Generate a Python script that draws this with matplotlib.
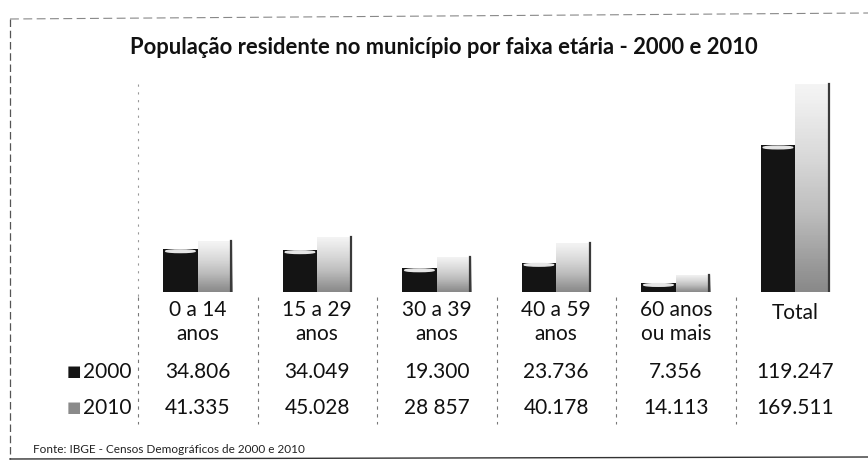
import numpy as np
import matplotlib
matplotlib.use("Agg")
import matplotlib.pyplot as plt
from matplotlib.patches import Ellipse
from matplotlib.transforms import blended_transform_factory

plt.rcParams['font.family'] = ['Lato', 'DejaVu Sans']

categorias = ['0 a 14\nanos', '15 a 29\nanos', '30 a 39\nanos',
              '40 a 59\nanos', '60 anos\nou mais', 'Total']
pop_2000 = [34.806, 34.049, 19.300, 23.736, 7.356, 119.247]
pop_2010 = [41.335, 45.028, 28.857, 40.178, 14.113, 169.511]
rot_2000 = ['34.806', '34.049', '19.300', '23.736', '7.356', '119.247']
rot_2010 = ['41.335', '45.028', '28 857', '40.178', '14.113', '169.511']
titulo = 'População residente no município por faixa etária - 2000 e 2010'
fonte = 'Fonte: IBGE - Censos Demográficos de 2000 e 2010'

W, H = 868, 464
fig = plt.figure(figsize=(W / 100, H / 100), dpi=100)


def fy(py):
    # pixel row (from top) -> figure fraction
    return 1 - py / H


ax = fig.add_axes([138 / W, fy(293), (855 - 138) / W, (293 - 78) / H])
ax.set_xlim(-0.5, 5.5)
ax.set_ylim(0, 175)
ax.axis('off')

x = np.arange(len(categorias))
bw = 0.29
b1 = ax.bar(x - bw / 2, pop_2000, bw, color='#141414', zorder=2)
b2 = ax.bar(x + bw / 2, pop_2010, bw, color='#d4d4d4', zorder=2)

# gradient on the 2010 bars (light top, darker base), dark right edge
grad = np.linspace(0, 1, 100).reshape(-1, 1)
for r in b2:
    x0, w, h = r.get_x(), r.get_width(), r.get_height()
    im = ax.imshow(grad, cmap='Greys', vmin=-0.2, vmax=2.0, aspect='auto',
                   extent=(x0, x0 + w, 0, h), origin='upper', zorder=3)
    im.set_clip_path(r)
    ax.plot([x0 + w * 0.97] * 2, [0, h], color='#3a3a3a', lw=1.6, zorder=4)
ax.set_xlim(-0.5, 5.5)
ax.set_ylim(0, 175)

# light cap on the 2000 cylinders
for r in b1:
    x0, w, h = r.get_x(), r.get_width(), r.get_height()
    ax.add_patch(Ellipse((x0 + w / 2, h - 1.6), w * 0.85, 2.2,
                         color='#e6e6e6', zorder=4))

# data table below the bars
tr = blended_transform_factory(ax.transData, fig.transFigure)
fs = 15
for i, cat in enumerate(categorias):
    ycat = 313 if '\n' not in cat else 322
    ax.text(i, fy(ycat), cat, transform=tr, ha='center', va='center',
            fontsize=fs, linespacing=1.2, color='#111111')
    ax.text(i, fy(372), rot_2000[i], transform=tr, ha='center', va='center',
            fontsize=fs, color='#111111')
    ax.text(i, fy(408), rot_2010[i], transform=tr, ha='center', va='center',
            fontsize=fs, color='#111111')

for i in range(len(categorias)):
    ax.plot([i - 0.5, i - 0.5], [fy(298), fy(425)], transform=tr,
            color='#777777', lw=0.8, ls=(0, (3, 4)), clip_on=False)
ax.plot([-0.5, -0.5], [fy(85), fy(298)], transform=tr,
        color='#999999', lw=0.8, ls=(0, (2, 5)), clip_on=False)

fig.text(132 / W, fy(372), '2000', ha='right', va='center', fontsize=fs,
         color='#111111')
fig.text(132 / W, fy(408), '2010', ha='right', va='center', fontsize=fs,
         color='#111111')
fig.text(74 / W, fy(372), '■', ha='center', va='center', fontsize=11,
         color='#141414', family=['DejaVu Sans'])
fig.text(74 / W, fy(408), '■', ha='center', va='center', fontsize=11,
         color='#8a8a8a', family=['DejaVu Sans'])

fig.text(444 / W, fy(48), titulo, ha='center', va='center', fontsize=15.8,
         fontweight='bold', color='#111111')
fig.text(33 / W, fy(450), fonte, ha='left', va='center', fontsize=8.5,
         color='#222222')

# outer frame of the scanned chart
fig.add_artist(plt.Line2D([10 / W, 10 / W], [fy(20), fy(460)], color='#555555',
                          lw=0.9, ls=(0, (6, 3))))
fig.add_artist(plt.Line2D([10 / W, 1], [fy(20), fy(14)], color='#888888',
                          lw=0.8, ls=(0, (8, 4))))
fig.add_artist(plt.Line2D([10 / W, 1], [fy(460), fy(458)], color='#333333',
                          lw=1.0))

fig.savefig('out.png', dpi=100)
